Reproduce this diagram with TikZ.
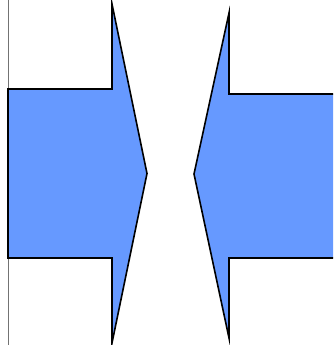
\documentclass[tikz,border=0pt]{standalone}
\usetikzlibrary{calc}
\definecolor{azulflecha}{RGB}{102,153,255}

\begin{document}
\begin{tikzpicture}[
		x=1pt, y=-1pt,
		% Estilos de las flechas y del borde
		flecha_bloque/.style={draw=black, fill=azulflecha, line width=1.6pt, line join=miter},
		borde/.style={draw=black!55, line width=1pt}
		]
		
		% --- MARCO ---
		\clip (0,0) rectangle (333,345);
		\useasboundingbox (0,0) rectangle (333,345);
		
		% --- LINEA VERTICAL IZQUIERDA ---
		\coordinate (borde_sup) at (8,0);
		\coordinate (borde_inf) at (8,345);
		\draw[borde] (borde_sup) -- (borde_inf);
		
		% --- FLECHA IZQUIERDA (hacia la derecha) ---
		\draw[flecha_bloque] (8,89) -- (112,89) -- (112,4) -- (147,173.5)
			-- (112,343) -- (112,258) -- (8,258) -- cycle;
		
		% --- FLECHA DERECHA (hacia la izquierda) ---
		\draw[flecha_bloque] (345,94) -- (229,94) -- (229,13) -- (194,174)
			-- (229,338) -- (229,258) -- (345,258) -- cycle;
		
	\end{tikzpicture}
\end{document}
